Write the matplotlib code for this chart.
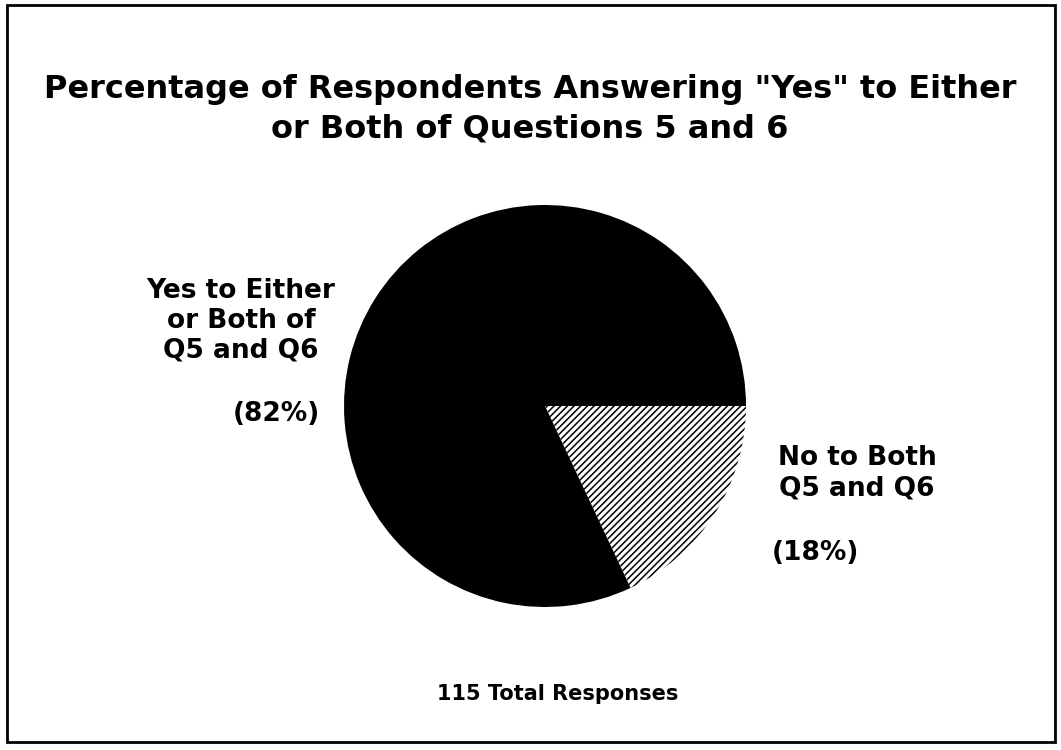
import matplotlib
matplotlib.use("Agg")
import matplotlib.pyplot as plt
from matplotlib.patches import Rectangle

labels = ["No to Both\nQ5 and Q6", "Yes to Either\nor Both of\nQ5 and Q6"]
percents = [18, 82]
pct_labels = ["(18%)", "(82%)"]
title = 'Percentage of Respondents Answering "Yes" to Either\nor Both of Questions 5 and 6'
footer = "115 Total Responses"

W, H = 1061, 750
plt.rcParams['font.family'] = ['DejaVu Sans']
plt.rcParams['hatch.linewidth'] = 1.1
plt.rcParams['hatch.color'] = 'black'

fig = plt.figure(figsize=(W / 100, H / 100), dpi=100)

def fx(x):
    return x / W

def fy(y):
    return 1 - y / H

cx, cy, r = 545, 406, 201
ax = fig.add_axes([fx(cx - r), fy(cy + r), 2 * r / W, 2 * r / H])
wedges, _ = ax.pie(percents, startangle=0, counterclock=False,
                   colors=["white", "black"], radius=1.0,
                   wedgeprops=dict(linewidth=0, edgecolor="black"))
wedges[0].set_hatch("/////")
wedges[0].set_edgecolor("black")
ax.set_xlim(-1, 1)
ax.set_ylim(-1, 1)
ax.set_aspect("auto")
ax.axis("off")

# frame
fig.patches.append(Rectangle((fx(7), fy(742)), fx(1055) - fx(7), fy(5) - fy(742),
                             transform=fig.transFigure, fill=False,
                             edgecolor="black", linewidth=2))

fig.text(fx(530), fy(109), title, ha="center", va="center", fontsize=23,
         fontweight="bold", linespacing=1.35)

fig.text(fx(241), fy(321), labels[1], ha="center", va="center", fontsize=19,
         fontweight="bold", linespacing=1.2)
fig.text(fx(276), fy(414), pct_labels[1], ha="center", va="center", fontsize=19,
         fontweight="bold")
fig.text(fx(857), fy(473), labels[0], ha="center", va="center", fontsize=19,
         fontweight="bold", linespacing=1.2)
fig.text(fx(815), fy(553), pct_labels[0], ha="center", va="center", fontsize=19,
         fontweight="bold")
fig.text(fx(558), fy(694), footer, ha="center", va="center", fontsize=15,
         fontweight="bold")

fig.savefig("out.png", dpi=100, facecolor="white")
